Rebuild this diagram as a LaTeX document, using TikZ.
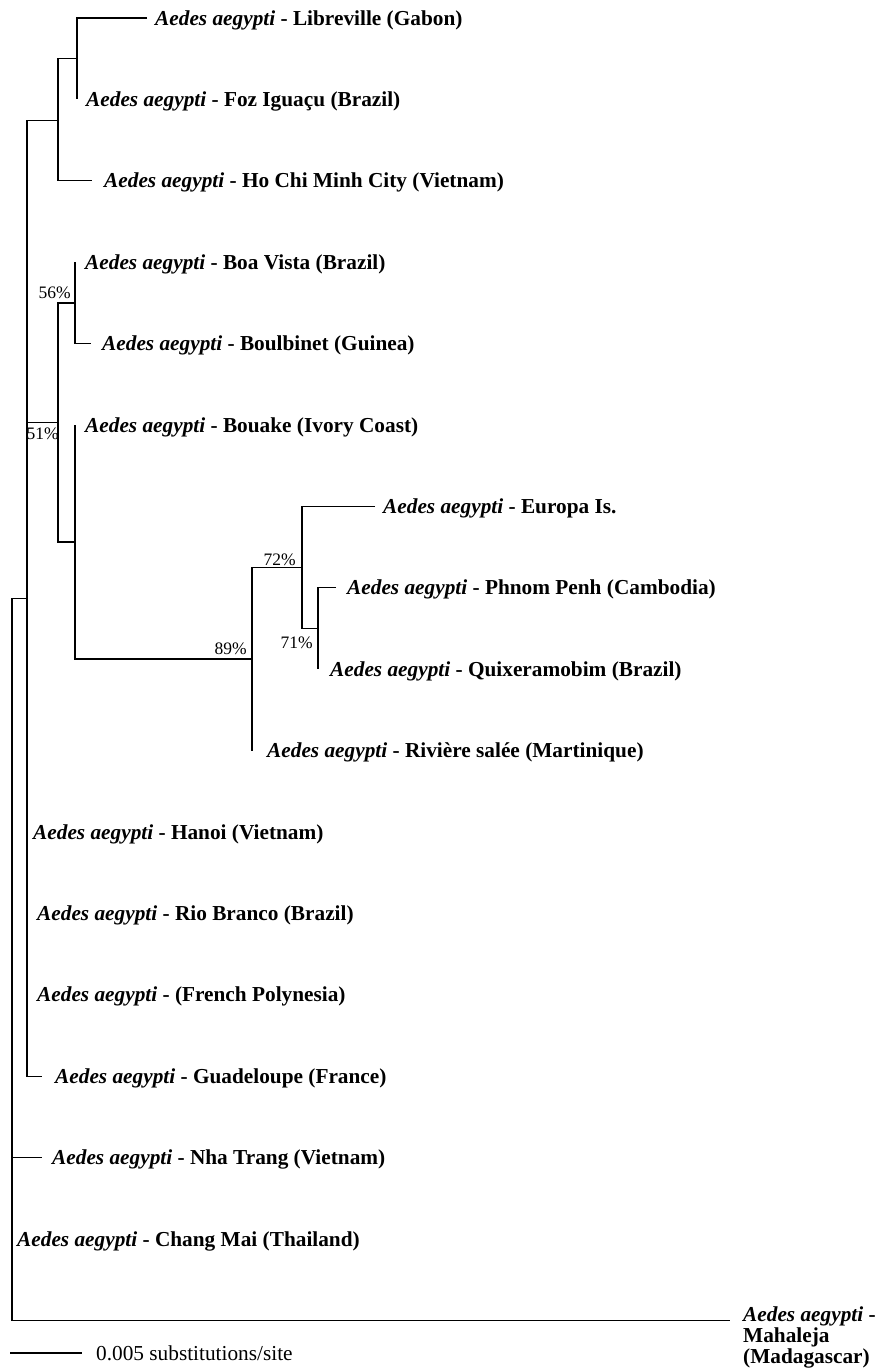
\documentclass[tikz,border=0pt]{standalone}
\usepackage{fontspec}
\setmainfont{Liberation Serif}
\usetikzlibrary{positioning}

\newcommand{\aeg}[1]{{\bfseries\itshape Aedes aegypti}\textbf{ - #1}}

\begin{document}
\begin{tikzpicture}[
    x=1pt, y=-1pt,
    branch/.style={line width=1.2pt},
    taxon/.style={anchor=base west, inner sep=0pt, yshift=-7pt,
                  font=\fontsize{21.3}{24}\selectfont},
    support/.style={anchor=base east, inner sep=0pt,
                    font=\fontsize{17.5}{20}\selectfont},
    scale label/.style={anchor=base west, inner sep=0pt,
                        font=\fontsize{21.3}{24}\selectfont}
]

\useasboundingbox (0,0) rectangle (878,1369);

% Tips
\coordinate (lib) at (147,18);
\coordinate (foz) at (77,99.4);
\coordinate (hcm) at (92,180.8);
\coordinate (bvi) at (75,262.2);
\coordinate (bou) at (91,343.6);
\coordinate (bke) at (75,425);
\coordinate (eur) at (375,506.4);
\coordinate (phn) at (336,587.8);
\coordinate (qui) at (318,669.2);
\coordinate (riv) at (252,750.6);
\coordinate (han) at (27,832);
\coordinate (rio) at (27,913.4);
\coordinate (fpo) at (27,994.8);
\coordinate (gua) at (42,1076.2);
\coordinate (nha) at (42,1157.6);
\coordinate (cha) at (12,1239);
\coordinate (mad) at (730,1320.4);

% Internal nodes
\coordinate (n1) at (77,58.7);
\coordinate (n2) at (58,120.4);
\coordinate (n3) at (75,302.9);
\coordinate (n4) at (318,628.5);
\coordinate (n5) at (302,567.5);
\coordinate (n6) at (252,659);
\coordinate (n7) at (75,542);
\coordinate (n8) at (58,422.5);
\coordinate (n9) at (27,598.3);
\coordinate (root) at (12,959.3);

% Top clade
\draw[branch] (lib) -| (n1) |- (foz);
\draw[branch] (n1) -| (n2) |- (hcm);

% Boa Vista / Boulbinet
\draw[branch] (bvi) -- (n3) |- (bou);

% Europa and the 89% group
\draw[branch] (phn) -| (n4) |- (qui);
\draw[branch] (eur) -| (n5) |- (n4);
\draw[branch] (n5) -| (n6) |- (riv);
\draw[branch] (bke) -- (n7) |- (n6);
\draw[branch] (n3) -| (n8) |- (n7);

% Big polytomy
\draw[branch] (n2) -| (n9) |- (n8);
\draw[branch] (n9) |- (gua);

% Root
\draw[branch] (n9) -| (root) |- (nha);
\draw[branch] (root) |- (mad);

% Labels
\node[taxon] (libL) at (155,18) {\aeg{Libreville (Gabon)}};
\node[taxon] (fozL) at (86,99.4) {\aeg{Foz Iguaçu (Brazil)}};
\node[taxon] (hcmL) at (104,180.8) {\aeg{Ho Chi Minh City (Vietnam)}};
\node[taxon] (bviL) at (85,262.2) {\aeg{Boa Vista (Brazil)}};
\node[taxon] (bouL) at (102,343.6) {\aeg{Boulbinet (Guinea)}};
\node[taxon] (bkeL) at (85,425) {\aeg{Bouake (Ivory Coast)}};
\node[taxon] (eurL) at (383,506.4) {\aeg{Europa Is.}};
\node[taxon] (phnL) at (347,587.8) {\aeg{Phnom Penh (Cambodia)}};
\node[taxon] (quiL) at (330,669.2) {\aeg{Quixeramobim (Brazil)}};
\node[taxon] (rivL) at (267,750.6) {\aeg{Rivière salée (Martinique)}};
\node[taxon] (hanL) at (33,832) {\aeg{Hanoi (Vietnam)}};
\node[taxon] (rioL) at (37,913.4) {\aeg{Rio Branco (Brazil)}};
\node[taxon] (fpoL) at (37,994.8) {\aeg{(French Polynesia)}};
\node[taxon] (guaL) at (55,1076.2) {\aeg{Guadeloupe (France)}};
\node[taxon] (nhaL) at (52,1157.6) {\aeg{Nha Trang (Vietnam)}};
\node[taxon] (chaL) at (17,1239) {\aeg{Chang Mai (Thailand)}};
\node[taxon, yshift=0pt, align=left, font=\fontsize{21.3}{21}\selectfont]
    (madL) at (743,1356)
    {{\bfseries\itshape Aedes aegypti} \textbf{-}\\\textbf{Mahaleja}\\\textbf{(Madagascar)}};

% Bootstrap values
\node[support, xshift=-4pt, yshift=4pt] (s56) at (n3) {56\%};
\node[support, xshift=1pt, yshift=-16.5pt] (s51) at (n8) {51\%};
\node[support, xshift=-5pt, yshift=5pt] (s89) at (n6) {89\%};
\node[support, xshift=-6pt, yshift=2pt] (s72) at (n5) {72\%};
\node[support, xshift=-5pt, yshift=-19.5pt] (s71) at (n4) {71\%};

% Scale bar
\coordinate (sbl) at (10,1353);
\coordinate (sbr) at (82,1353);
\draw[branch] (sbl) -- (sbr);
\node[scale label, yshift=-7pt] (sbt) at (96,1353) {0.005 substitutions/site};

\end{tikzpicture}
\end{document}
